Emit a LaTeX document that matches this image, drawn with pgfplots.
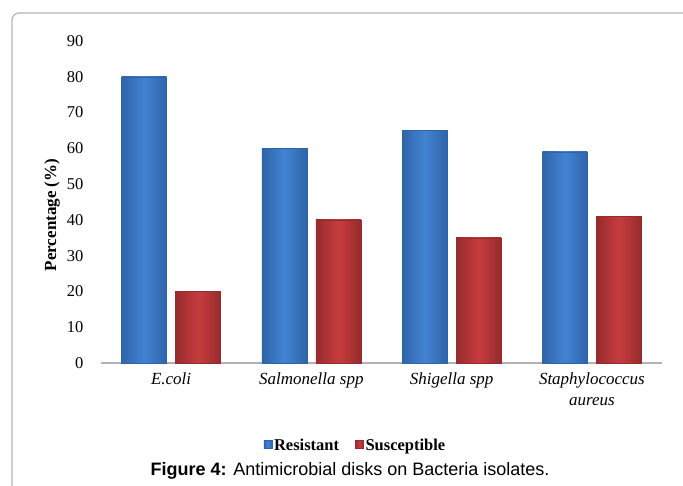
\documentclass[border=0pt]{standalone}
\usepackage{pgfplots}
\pgfplotsset{compat=1.18}
\usepackage{fontspec}
\setmainfont{Liberation Serif}
\newfontfamily\arial{Liberation Sans}
\definecolor{bmain}{HTML}{4283D3}
\definecolor{bdark}{HTML}{2F64A9}
\definecolor{rmain}{HTML}{C73C3E}
\definecolor{rdark}{HTML}{962B2D}
\definecolor{frame}{HTML}{B4B4B4}
\begin{document}
\begin{tikzpicture}[x=1pt,y=1pt]
\useasboundingbox (0,0) rectangle (683,486);
\draw[frame, line width=1.2pt, rounded corners=7pt] (12,0) -- (12,473) -- (683,473);
\begin{axis}[
  at={(101pt,123pt)}, anchor=south west,
  scale only axis, width=561pt, height=322pt,
  xmin=-0.5, xmax=3.5, ymin=0, ymax=90,
  ytick={0,10,...,90},
  xtick={0,1,2,3},
  xticklabels={E.coli, Salmonella spp, Shigella spp, {Staphylococcus\\aureus}},
  xticklabel style={font=\fontsize{17}{21}\selectfont\itshape, align=center, yshift=-6pt},
  yticklabel style={font=\fontsize{16.5}{20}\selectfont, xshift=-14pt},
  /pgf/number format/assume math mode=true,
  major tick length=0pt,
  axis x line*=bottom, axis y line*=left,
  x axis line style={draw=gray!60, line width=1.2pt, -},
  y axis line style={draw=none},
  ylabel={Percentage (\%)},
  every axis y label/.style={at={(-49pt,148pt)}, rotate=90, anchor=center,
    font=\fontsize{17}{20}\selectfont\bfseries},
  ybar, bar width=45pt,
  legend style={at={(0.4536,-0.255)}, anchor=center, draw=none, fill=none,
    legend columns=2, font=\fontsize{16.5}{20}\selectfont\bfseries,
    /tikz/every even column/.append style={column sep=14pt},
    inner sep=0pt},
  legend image code/.code={\fill[#1] (1pt,-3pt) rectangle (9pt,5pt);},
  clip=false,
  bres/.style={bar shift=-27pt, draw=bdark, left color=bdark, right color=bdark, middle color=bmain},
  bsus/.style={bar shift=27pt, draw=rdark, left color=rdark, right color=rdark, middle color=rmain},
]
\addplot[bres] coordinates {(0,80)};
\addplot[bsus] coordinates {(0,20)};
\addplot[bres, forget plot] coordinates {(1,60)};
\addplot[bres, forget plot] coordinates {(2,65)};
\addplot[bres, forget plot] coordinates {(3,59)};
\addplot[bsus, forget plot] coordinates {(1,40)};
\addplot[bsus, forget plot] coordinates {(2,35)};
\addplot[bsus, forget plot] coordinates {(3,41)};
\legend{Resistant, Susceptible}
\end{axis}
\node[font=\arial\fontsize{18}{20}\selectfont, anchor=base] at (350,10) {\textbf{Figure 4:} Antimicrobial disks on Bacteria isolates.};
\end{tikzpicture}
\end{document}
